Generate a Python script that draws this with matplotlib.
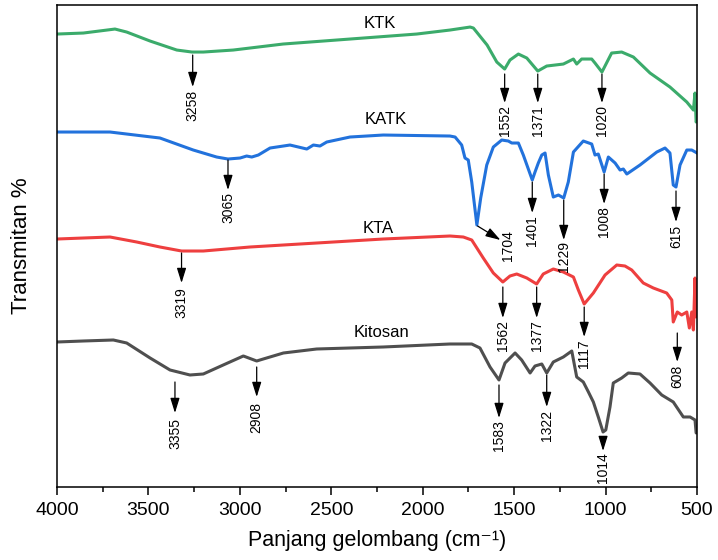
import matplotlib
matplotlib.use('Agg')
import matplotlib.pyplot as plt
from matplotlib.ticker import MultipleLocator

plt.rcParams['font.family'] = ['Liberation Sans', 'DejaVu Sans']

# FTIR spectra (wavenumber in cm-1, transmittance in arbitrary offset units)
ktk_wn = [4000, 3856, 3683, 3619, 3491, 3345, 3262, 3200, 3036, 2764, 2398, 2033,
          1851, 1741, 1723, 1648, 1595, 1552, 1523, 1477, 1431, 1371, 1322, 1231,
          1176, 1158, 1131, 1076, 1058, 1020, 967, 912, 848, 757, 648, 556, 520,
          511, 505, 500]
ktk_t = [453, 454, 458, 455, 446, 437, 435, 435, 437, 443, 448, 453,
         457, 460, 459, 442, 425, 418, 427, 433, 429, 416, 421, 423,
         428, 423, 428, 428, 424, 415, 434, 435, 430, 414, 400, 385, 377,
         394, 365, 367]

katk_wn = [4000, 3710, 3437, 3255, 3127, 3065, 2999, 2963, 2935, 2899, 2835, 2726,
           2680, 2634, 2598, 2562, 2525, 2398, 2216, 1851, 1823, 1787, 1769, 1751,
           1732, 1704, 1683, 1650, 1614, 1568, 1532, 1513, 1477, 1450, 1401, 1386,
           1368, 1349, 1331, 1313, 1286, 1258, 1229, 1204, 1176, 1122, 1076, 1058,
           1040, 1008, 985, 948, 921, 903, 884, 812, 720, 675, 648, 630, 615, 593,
           556, 529, 500]
katk_t = [355, 355, 349, 337, 330, 328, 329, 331, 330, 332, 339, 342,
          340, 338, 342, 341, 345, 350, 352, 351, 350, 342, 329, 327,
          305, 262, 289, 322, 340, 347, 346, 344, 344, 332, 307, 315,
          324, 332, 334, 312, 290, 292, 289, 305, 335, 346, 343, 332,
          333, 315, 330, 324, 317, 318, 313, 322, 335, 339, 334, 302, 300, 322,
          337, 337, 334]

kta_wn = [4000, 3856, 3710, 3564, 3437, 3319, 3200, 2945, 2580, 2216, 1851, 1778,
          1732, 1669, 1614, 1562, 1523, 1486, 1431, 1377, 1341, 1286, 1231, 1176,
          1149, 1117, 1067, 1003, 939, 894, 857, 794, 739, 666, 638, 630, 608,
          584, 556, 542, 529, 520, 511, 505, 500]
kta_t = [248, 249, 250, 245, 240, 236, 236, 240, 244, 248, 251, 250,
         247, 229, 214, 205, 211, 213, 209, 203, 213, 218, 215, 210,
         197, 183, 194, 212, 222, 221, 217, 204, 199, 194, 187, 165, 175,
         172, 175, 159, 175, 157, 209, 170, 172]

kitosan_wn = [4000, 3856, 3692, 3619, 3491, 3382, 3273, 3200, 3091, 2981, 2908, 2872,
              2762, 2580, 2216, 1851, 1732, 1687, 1632, 1583, 1550, 1495, 1459, 1413,
              1386, 1349, 1322, 1286, 1231, 1185, 1158, 1122, 1094, 1067, 1040, 1014,
              999, 976, 958, 912, 876, 812, 757, 693, 630, 575, 538, 511, 505, 500]
kitosan_t = [145, 146, 147, 144, 129, 117, 112, 113, 122, 131, 126, 128,
             134, 138, 140, 143, 143, 139, 120, 107, 124, 134, 127, 114,
             121, 123, 114, 125, 130, 136, 110, 105, 95, 85, 70, 55,
             57, 80, 104, 109, 114, 113, 104, 92, 85, 70, 70, 67, 54, 55]

names = ['KTK', 'KATK', 'KTA', 'Kitosan']
colors = ['#3bab6b', '#2272dc', '#ee3f3f', '#4f4f4f']

# peak labels per spectrum
ktk_peaks = [3258, 1552, 1371, 1020]
katk_peaks = [3065, 1704, 1401, 1229, 1008, 615]
kta_peaks = [3319, 1562, 1377, 1117, 608]
kitosan_peaks = [3355, 2908, 1583, 1322, 1014]

# arrow start, arrow end, text top (y units) for each peak label
ktk_arrows = [(432, 400, 397), (413, 384, 382), (413, 384, 382), (413, 384, 382)]
katk_arrows = [(327, 297, 295), None, (305, 274, 272), (287, 247, 246),
               (313, 283, 281), (296, 265, 262)]
kta_arrows = [(234, 204, 200), (200, 169, 167), (200, 169, 167), (180, 150, 148),
              (154, 125, 122)]
kitosan_arrows = [(105, 74, 69), (120, 90, 85), (102, 69, 67), (112, 80, 77),
                  (50, 36, 35)]

name_pos = [(2234, 464), (2201, 368), (2245, 259), (2223, 154)]

fig = plt.figure(figsize=(7.18, 5.6), dpi=100)
ax = fig.add_axes([0.0794, 0.1304, 0.8914, 0.8606])

spectra = [(ktk_wn, ktk_t), (katk_wn, katk_t), (kta_wn, kta_t), (kitosan_wn, kitosan_t)]
for (wn, t), c in zip(spectra, colors):
    ax.plot(wn, t, color=c, lw=2.2, solid_joinstyle='round')

for name, (x, y) in zip(names, name_pos):
    ax.text(x, y, name, ha='center', va='center', fontsize=12)

arrow_style = dict(arrowstyle='-|>,head_length=0.9,head_width=0.28', color='black',
                   lw=0.9, shrinkA=0, shrinkB=0)

for peaks, arrows in [(ktk_peaks, ktk_arrows), (katk_peaks, katk_arrows),
                      (kta_peaks, kta_arrows), (kitosan_peaks, kitosan_arrows)]:
    for p, a in zip(peaks, arrows):
        if a is None:
            continue
        y0, y1, yt = a
        ax.annotate('', xy=(p, y1), xytext=(p, y0), arrowprops=arrow_style)
        ax.text(p, yt, str(p), rotation=90, ha='center', va='top', fontsize=10)

# 1704 band: slanted arrow, label beside the head
ax.annotate('', xy=(1575, 247), xytext=(1700, 261), arrowprops=arrow_style)
ax.text(1534, 257, '1704', rotation=90, ha='center', va='top', fontsize=10)

ax.set_xlim(4000, 500)
ax.set_ylim(0, 482)
ax.xaxis.set_major_locator(MultipleLocator(500))
ax.xaxis.set_minor_locator(MultipleLocator(250))
ax.tick_params(axis='x', which='major', direction='out', length=6, width=1.1,
               labelsize=14, pad=5)
ax.tick_params(axis='x', which='minor', direction='out', length=3.5, width=1.1)
ax.set_yticks([])
for s in ax.spines.values():
    s.set_linewidth(1.1)

ax.set_xlabel('Panjang gelombang (cm\u207b\u00b9)', fontsize=15.5, labelpad=8)
ax.set_ylabel('Transmitan %', fontsize=16, labelpad=18)

fig.savefig('out.png', dpi=100)
